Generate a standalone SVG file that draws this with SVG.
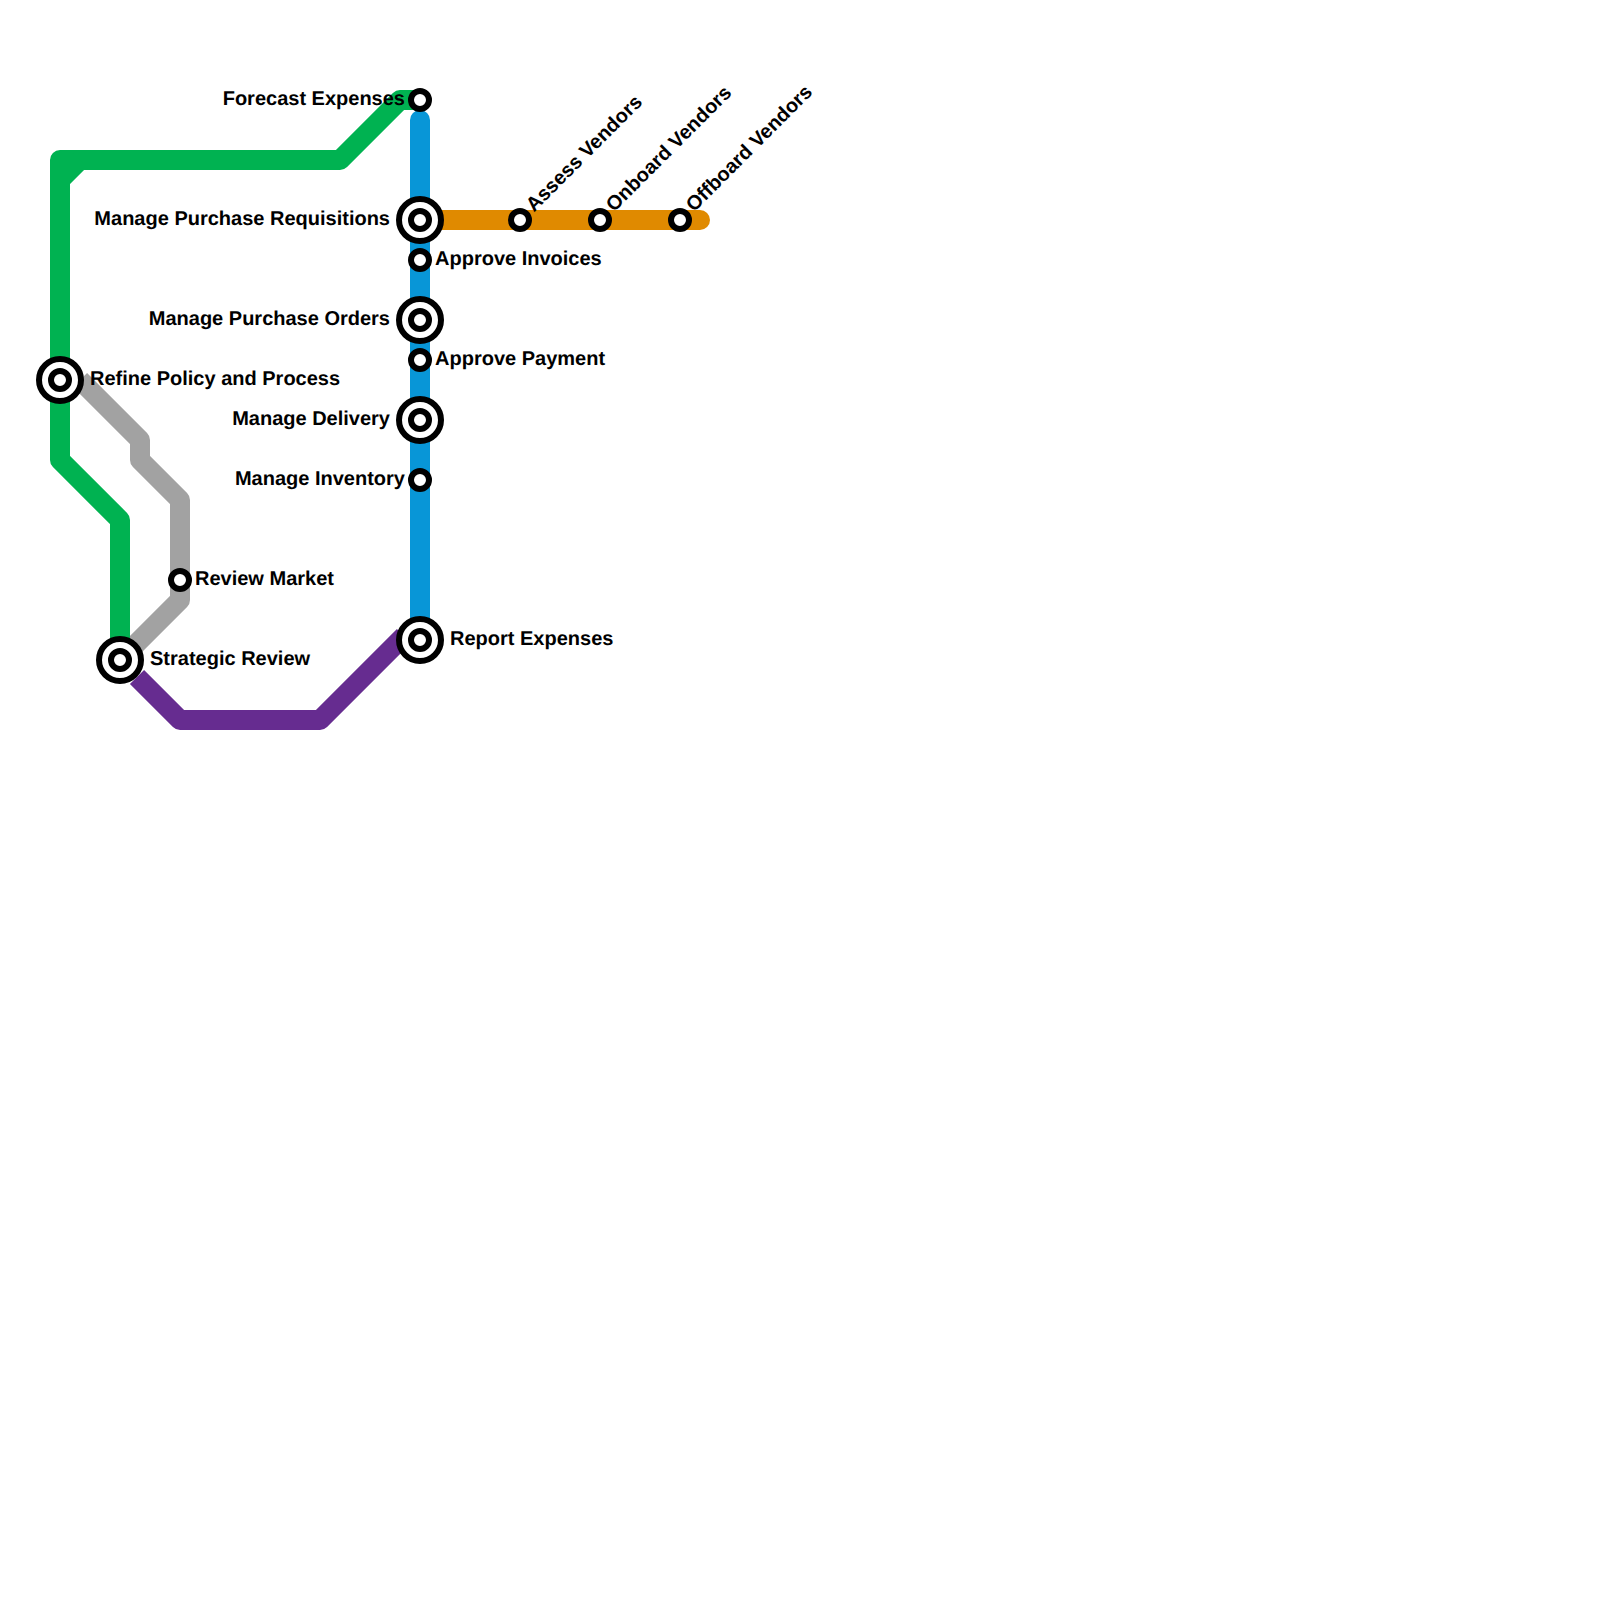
<svg xmlns="http://www.w3.org/2000/svg" width="1600" height="1600" viewBox="0 0 1600 1600">
<style>
.l{fill:none;stroke-width:20;stroke-linejoin:round}
.r{stroke-linecap:round}
.o{fill:#fff;stroke:#000;stroke-width:6}
.i{fill:#fff;stroke:#000;stroke-width:6}
text{font-family:"Liberation Sans",Arial,sans-serif;font-weight:700;font-size:20px;fill:#000;text-rendering:geometricPrecision}
.e{text-anchor:end}
</style>
<rect width="1600" height="1600" fill="#fff"/>
<g id="connectors">
<path class="l" stroke="#a2a2a2" d="M80 380L140 440V460L180 500V600L130 650"/>
<path class="l" stroke="#00b251" d="M120 640V520L60 460V160H340L400 100H420"/>
<path class="l" stroke="#00b251" d="M60 180L80 160"/>
<path class="l r" stroke="#0896d7" d="M420 120V640"/>
<path class="l r" stroke="#e08a00" d="M420 220H700"/>
<path class="l" stroke="#662c90" d="M137 677L180 720H320L404 636"/>
</g>
<g id="forecast-expenses"><circle class="i" cx="420" cy="100" r="9"/><text class="e" x="405" y="105">Forecast Expenses</text></g>
<g id="manage-purchase-requisitions"><circle class="o" cx="420" cy="220" r="21"/><circle class="i" cx="420" cy="220" r="9"/><text class="e" x="390" y="225">Manage Purchase Requisitions</text></g>
<g id="approve-invoices"><circle class="i" cx="420" cy="260" r="9"/><text x="435" y="265">Approve Invoices</text></g>
<g id="manage-purchase-orders"><circle class="o" cx="420" cy="320" r="21"/><circle class="i" cx="420" cy="320" r="9"/><text class="e" x="390" y="325">Manage Purchase Orders</text></g>
<g id="approve-payment"><circle class="i" cx="420" cy="360" r="9"/><text x="435" y="365">Approve Payment</text></g>
<g id="manage-delivery"><circle class="o" cx="420" cy="420" r="21"/><circle class="i" cx="420" cy="420" r="9"/><text class="e" x="390" y="425">Manage Delivery</text></g>
<g id="manage-inventory"><circle class="i" cx="420" cy="480" r="9"/><text class="e" x="405" y="485">Manage Inventory</text></g>
<g id="report-expenses"><circle class="o" cx="420" cy="640" r="21"/><circle class="i" cx="420" cy="640" r="9"/><text x="450" y="645">Report Expenses</text></g>
<g id="refine-policy"><circle class="o" cx="60" cy="380" r="21"/><circle class="i" cx="60" cy="380" r="9"/><text x="90" y="385">Refine Policy and Process</text></g>
<g id="review-market"><circle class="i" cx="180" cy="580" r="9"/><text x="195" y="585">Review Market</text></g>
<g id="strategic-review"><circle class="o" cx="120" cy="660" r="21"/><circle class="i" cx="120" cy="660" r="9"/><text x="150" y="665">Strategic Review</text></g>
<g id="assess-vendors"><circle class="i" cx="520" cy="220" r="9"/><text transform="translate(534 212.5) rotate(-45)">Assess Vendors</text></g>
<g id="onboard-vendors"><circle class="i" cx="600" cy="220" r="9"/><text transform="translate(614 212.5) rotate(-45)">Onboard Vendors</text></g>
<g id="offboard-vendors"><circle class="i" cx="680" cy="220" r="9"/><text transform="translate(694 212.5) rotate(-45)">Offboard Vendors</text></g>
</svg>
